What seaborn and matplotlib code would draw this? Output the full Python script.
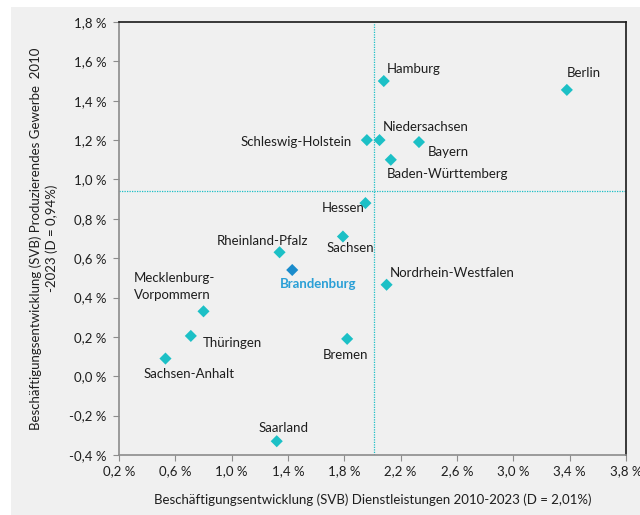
import matplotlib
matplotlib.use("Agg")
import matplotlib.pyplot as plt
import matplotlib.ticker as mticker
from matplotlib.patches import Rectangle
import seaborn as sns
import pandas as pd

# ---- data ----
laender = ["Hamburg", "Berlin", "Schleswig-Holstein", "Niedersachsen", "Bayern",
           "Baden-Württemberg", "Hessen", "Sachsen", "Rheinland-Pfalz", "Brandenburg",
           "Nordrhein-Westfalen", "Mecklenburg-\nVorpommern", "Thüringen", "Bremen",
           "Sachsen-Anhalt", "Saarland"]
dienstleistungen = [2.08, 3.38, 1.96, 2.05, 2.33, 2.13, 1.95, 1.79, 1.34, 1.43,
                    2.10, 0.80, 0.71, 1.82, 0.53, 1.32]
produzierendes = [1.50, 1.455, 1.20, 1.20, 1.19, 1.10, 0.88, 0.71, 0.63, 0.54,
                  0.465, 0.33, 0.205, 0.19, 0.09, -0.33]
mittel_x = 2.01
mittel_y = 0.94
x_ticks = [0.2, 0.6, 1.0, 1.4, 1.8, 2.2, 2.6, 3.0, 3.4, 3.8]
y_ticks = [-0.4, -0.2, 0.0, 0.2, 0.4, 0.6, 0.8, 1.0, 1.2, 1.4, 1.6, 1.8]

# label placement: (dx px, dy px, ha)
offsets = {
    "Hamburg": (3, 12, "left"),
    "Berlin": (0, 17, "left"),
    "Schleswig-Holstein": (-15, -2, "right"),
    "Niedersachsen": (3, 13, "left"),
    "Bayern": (9, -10, "left"),
    "Baden-Württemberg": (-4, -14, "left"),
    "Hessen": (-1, -5, "right"),
    "Sachsen": (7, -11, "center"),
    "Rheinland-Pfalz": (-17, 11, "center"),
    "Brandenburg": (26, -14, "center"),
    "Nordrhein-Westfalen": (3, 12, "left"),
    "Mecklenburg-\nVorpommern": (-70, 25, "left"),
    "Thüringen": (12, -7, "left"),
    "Bremen": (-2, -16, "center"),
    "Sachsen-Anhalt": (24, -15, "center"),
    "Saarland": (7, 13, "center"),
}

df = pd.DataFrame({"land": laender, "x": dienstleistungen, "y": produzierendes})
df["gruppe"] = ["BB" if l == "Brandenburg" else "other" for l in laender]

sns.set_theme(style="white")
plt.rcParams["font.family"] = ["Lato", "DejaVu Sans"]

bg = "#f0f0f0"
turq = "#1cc0c6"
blue = "#1a8ccc"

fig = plt.figure(figsize=(6.4, 5.15), dpi=100)
fig.patch.set_facecolor("white")
fig.patches.append(Rectangle((11 / 640, 0), 1, (515 - 7) / 515, transform=fig.transFigure,
                             facecolor=bg, edgecolor="none", zorder=-10))
ax = fig.add_axes([119 / 640, 1 - 455 / 515, (626 - 119) / 640, (455 - 22) / 515])
ax.set_facecolor(bg)

ax.axvline(mittel_x, color=turq, lw=0.9, ls=(0, (1, 1)), zorder=1)
ax.axhline(mittel_y, color=turq, lw=0.9, ls=(0, (1, 1)), zorder=1)

sns.scatterplot(data=df, x="x", y="y", hue="gruppe", palette={"other": turq, "BB": blue},
                marker="D", s=38, edgecolor="none", legend=False, ax=ax, zorder=3)

for l, xv, yv in zip(laender, dienstleistungen, produzierendes):
    dx, dy, ha = offsets[l]
    if l == "Brandenburg":
        kw = dict(color="#2a9fd6", fontweight="bold")
    else:
        kw = dict(color="#1e1e1e")
    ax.annotate(l, (xv, yv), xytext=(dx, dy), textcoords="offset pixels",
                ha=ha, va="center", fontsize=9.5, linespacing=1.45, **kw)

ax.set_xlim(0.2, 3.8)
ax.set_ylim(-0.4, 1.8)
ax.set_xticks(x_ticks)
ax.set_yticks(y_ticks)
fmt = mticker.FuncFormatter(lambda v, p: f"{v:.1f} %".replace(".", ",").replace("-0,0", "0,0"))
ax.xaxis.set_major_formatter(fmt)
ax.yaxis.set_major_formatter(fmt)
ax.tick_params(axis="both", direction="out", length=4, width=0.8, color="#8c8c8c",
               labelsize=9.5, labelcolor="#1e1e1e", bottom=True, left=True)
ax.tick_params(axis="x", pad=3)
ax.tick_params(axis="y", pad=5)

for s in ["left", "bottom"]:
    ax.spines[s].set_color("#8c8c8c")
    ax.spines[s].set_linewidth(1.2)
for s in ["top", "right"]:
    ax.spines[s].set_color("#1a1a1a")
    ax.spines[s].set_linewidth(1.2)

ax.set_xlabel("Beschäftigungsentwicklung (SVB) Dienstleistungen 2010-2023 (D = 2,01%)",
              fontsize=9.5, color="#1e1e1e", labelpad=12)
ax.set_ylabel("Beschäftigungsentwicklung (SVB) Produzierendes Gewerbe  2010\n-2023 (D = 0,94%)",
              fontsize=9.5, color="#1e1e1e", labelpad=8, linespacing=1.3)

fig.savefig("out.png", dpi=100)
